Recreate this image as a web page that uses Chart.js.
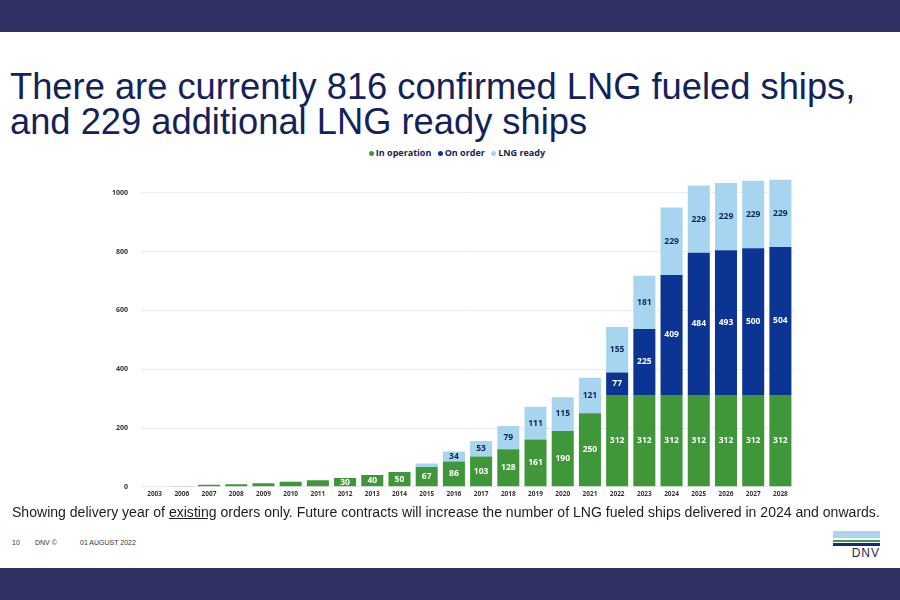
<!DOCTYPE html>
<html>
<head>
<meta charset="utf-8">
<script src="https://cdn.jsdelivr.net/npm/chart.js@4.4.0/dist/chart.umd.min.js"></script>
<style>
  html, body { margin: 0; padding: 0; }
  body { width: 900px; height: 600px; position: relative; background: #fff; overflow: hidden; font-family: "Liberation Sans", Arial, sans-serif; }
  .band { position: absolute; left: 0; width: 900px; height: 32px; background: #2f3163; }
  #title { position: absolute; left: 10px; top: 69px; font-size: 36.3px; line-height: 35px; color: #13235a; white-space: nowrap; }
  #legend { position: absolute; left: 0; width: 910px; top: 146px; text-align: center; font-family: "Open Sans", sans-serif; font-weight: bold; font-size: 9px; color: #13235a; }
  #legend i { display: inline-block; width: 5px; height: 5px; border-radius: 50%; margin: 0 2px 1px 4px; vertical-align: middle; }
  #chartBox { position: absolute; left: 99px; top: 161px; width: 705px; height: 343px; }
  #note { position: absolute; left: 12px; top: 503px; font-size: 15.5px; color: #1b1b2b; white-space: nowrap; transform-origin: 0 0; }
  #foot { position: absolute; left: 12px; top: 539px; font-size: 7px; color: #333; }
  .logo { position: absolute; left: 833px; width: 47px; }
</style>
</head>
<body>
<div class="band" style="top:0"></div>
<div id="title">There are currently 816 confirmed LNG fueled ships,<br>and 229 additional LNG ready ships</div>
<div id="chartBox"><canvas id="lngChart"></canvas></div>
<div id="legend"><i style="background:#3f973a"></i>In operation <i style="background:#0c3593"></i>On order <i style="background:#a7d5ef"></i>LNG ready</div>
<div id="note">Showing delivery year of <u>existing</u> orders only. Future contracts will increase the number of LNG fueled ships delivered in 2024 and onwards.</div>
<div id="foot"><span style="position:absolute;left:0">10</span><span style="position:absolute;left:23px;white-space:nowrap">DNV ©</span><span style="position:absolute;left:68px;white-space:nowrap">01 AUGUST 2022</span></div>
<div class="logo" style="top:531px;height:7px;background:#a9d6ee"></div>
<div class="logo" style="top:540px;height:2px;background:#3e9a4c"></div>
<div class="logo" style="top:543px;height:3px;background:#0f2f6e"></div>
<div style="position:absolute;right:20px;top:546px;font-size:12px;letter-spacing:1px;color:#1b2a5a">DNV</div>
<div class="band" style="top:568px"></div>

<script>
const years = ['2003', '2006', '2007', '2008', '2009', '2010', '2011', '2012', '2013', '2014', '2015', '2016', '2017',
    '2018', '2019', '2020', '2021', '2022', '2023', '2024', '2025', '2026', '2027', '2028'];
const inOperation = [2, 3, 7, 9, 12, 17, 22, 30, 40, 50, 67, 86, 103, 128, 161, 190, 250, 312, 312, 312, 312, 312, 312, 312];
const onOrder = [0, 0, 0, 0, 0, 0, 0, 0, 0, 0, 0, 0, 0, 0, 0, 0, 0, 77, 225, 409, 484, 493, 500, 504];
const lngReady = [0, 0, 0, 0, 0, 0, 0, 0, 0, 0, 12, 34, 53, 79, 111, 115, 121, 155, 181, 229, 229, 229, 229, 229];
const yTicks = [0, 200, 400, 600, 800, 1000];

const labelColors = ['#ffffff', '#ffffff', '#13235a'];

// squeeze the footnote to the width it has on the slide
const note = document.getElementById('note');
note.style.transform = 'scaleX(' + (868 / note.offsetWidth) + ')';

// draws the numbers inside the segments
const barLabels = {
    id: 'barLabels',
    afterDatasetsDraw(chart) {
        const ctx = chart.ctx;
        ctx.save();
        ctx.font = 'bold 8.5px "Open Sans", sans-serif';
        ctx.textAlign = 'center';
        ctx.textBaseline = 'middle';
        chart.data.datasets.forEach((ds, di) => {
            const meta = chart.getDatasetMeta(di);
            meta.data.forEach((bar, i) => {
                const v = ds.data[i];
                if (v < 25) return;
                ctx.fillStyle = labelColors[di];
                ctx.fillText(v, bar.x, (bar.y + bar.base) / 2);
            });
        });
        ctx.restore();
    }
};

new Chart(document.getElementById('lngChart'), {
    type: 'bar',
    data: {
        labels: years,
        datasets: [
            { label: 'In operation', data: inOperation, backgroundColor: '#3f973a' },
            { label: 'On order', data: onOrder, backgroundColor: '#0c3593' },
            { label: 'LNG ready', data: lngReady, backgroundColor: '#a7d5ef' }
        ]
    },
    options: {
        responsive: true,
        maintainAspectRatio: false,
        animation: false,
        layout: { padding: { top: 5, right: 10 } },
        datasets: { bar: { categoryPercentage: 1, barPercentage: 0.81 } },
        scales: {
            x: {
                stacked: true,
                grid: { display: false, drawTicks: false },
                border: { display: false },
                ticks: { color: '#333', font: { size: 6.5, weight: 'bold', family: '"Open Sans", sans-serif' }, maxRotation: 0, autoSkip: false, padding: 3 }
            },
            y: {
                stacked: true,
                min: 0,
                max: 1050,
                afterBuildTicks: axis => { axis.ticks = yTicks.map(v => ({ value: v })); },
                grid: { color: '#ececec', drawTicks: false },
                border: { display: false },
                ticks: { color: '#333', font: { size: 7, weight: 'bold', family: '"Open Sans", sans-serif' }, padding: 13, callback: v => String(v) }
            }
        },
        plugins: {
            legend: { display: false },
            tooltip: { enabled: false }
        }
    },
    plugins: [barLabels]
});
</script>
</body>
</html>
